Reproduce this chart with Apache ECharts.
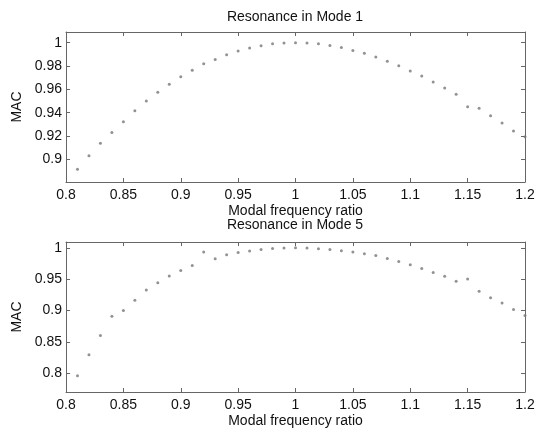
<!DOCTYPE html>
<html>
<head>
<meta charset="utf-8">
<script src="https://cdn.jsdelivr.net/npm/echarts@6/dist/echarts.min.js"></script>
<style>html,body{margin:0;padding:0;background:#fff}#c{width:538px;height:432px}</style>
</head>
<body>
<div id="c"></div>
<script>
var ratio = [0.81,0.82,0.83,0.84,0.85,0.86,0.87,0.88,0.89,0.90,0.91,0.92,0.93,0.94,0.95,0.96,0.97,0.98,0.99,1.00,
             1.01,1.02,1.03,1.04,1.05,1.06,1.07,1.08,1.09,1.10,1.11,1.12,1.13,1.14,1.15,1.16,1.17,1.18,1.19,1.20];
var mode1 = [0.8914,0.9031,0.9137,0.9229,0.9323,0.9417,0.9500,0.9574,0.9643,0.9709,0.9763,0.9820,0.9857,0.9897,0.9929,0.9954,0.9973,0.9991,0.9997,1.0000,
             0.9997,0.9991,0.9977,0.9960,0.9934,0.9909,0.9877,0.9840,0.9803,0.9757,0.9714,0.9663,0.9611,0.9557,0.9451,0.9437,0.9374,0.9311,0.9243,0.9194];
var mode5 = [0.7963,0.8296,0.8603,0.8910,0.9000,0.9164,0.9328,0.9444,0.9550,0.9640,0.9720,0.9931,0.9825,0.9889,0.9926,0.9947,0.9974,0.9989,0.9995,1.0000,
             0.9995,0.9984,0.9974,0.9952,0.9931,0.9905,0.9878,0.9831,0.9783,0.9730,0.9672,0.9608,0.9545,0.9466,0.9503,0.9307,0.9206,0.9122,0.9016,0.8921];
var xTicks = [0.8,0.85,0.9,0.95,1,1.05,1.1,1.15,1.2];
var yTicks1 = [0.9,0.92,0.94,0.96,0.98,1];
var yTicks5 = [0.8,0.85,0.9,0.95,1];
var titles = ['Resonance in Mode 1','Resonance in Mode 5'];

var FONT = 'Liberation Sans, Arial, sans-serif';
var FS = 14;
var AX = '#666';
function pairs(ys){ return ratio.map(function(x,i){return [x, ys[i]];}); }
function fmt(v){ return String(Math.round(v*1000)/1000); }

var grids = [{left:66,right:13,top:32,height:150},{left:66,right:13,top:242,height:150}];
var yRanges = [[0.8805,1.0092],[0.7705,1.0092]];
var yTickSets = [yTicks1, yTicks5];
var xAxes = [], yAxes = [];
for (var g=0; g<2; g++){
  xAxes.push({gridIndex:g, type:'value', position:'bottom', min:0.8, max:1.2,
    name:'Modal frequency ratio', nameLocation:'middle', nameGap:22,
    nameTextStyle:{fontFamily:FONT,fontSize:FS,color:'#111'},
    axisLine:{onZero:false,lineStyle:{color:AX,width:1}},
    axisTick:{inside:true,length:4,customValues:xTicks,lineStyle:{color:AX}},
    axisLabel:{customValues:xTicks,formatter:fmt,fontFamily:FONT,fontSize:FS,color:'#111',margin:6},
    splitLine:{show:false}});
  xAxes.push({gridIndex:g, type:'value', position:'top', min:0.8, max:1.2,
    axisLine:{onZero:false,lineStyle:{color:AX,width:1}},
    axisTick:{inside:true,length:4,customValues:xTicks,lineStyle:{color:AX}},
    axisLabel:{show:false}, splitLine:{show:false}});
  yAxes.push({gridIndex:g, type:'value', position:'left', min:yRanges[g][0], max:yRanges[g][1],
    name:'MAC', nameLocation:'middle', nameGap:35,
    nameTextStyle:{fontFamily:FONT,fontSize:FS,color:'#111'},
    axisLine:{show:true,onZero:false,lineStyle:{color:AX,width:1}},
    axisTick:{show:true,inside:true,length:4,customValues:yTickSets[g],lineStyle:{color:AX}},
    axisLabel:{customValues:yTickSets[g],formatter:fmt,fontFamily:FONT,fontSize:FS,color:'#111',margin:4},
    splitLine:{show:false}});
  yAxes.push({gridIndex:g, type:'value', position:'right', min:yRanges[g][0], max:yRanges[g][1],
    axisLine:{show:true,onZero:false,lineStyle:{color:AX,width:1}},
    axisTick:{show:true,inside:true,length:4,customValues:yTickSets[g],lineStyle:{color:AX}},
    axisLabel:{show:false}, splitLine:{show:false}});
}

var chart = echarts.init(document.getElementById('c'), null, {renderer:'canvas'});
chart.setOption({
  backgroundColor:'#fff',
  animation:false,
  title:[
    {text:titles[0], left:295, top:10, padding:0, textAlign:'center', textStyle:{fontFamily:FONT,fontSize:FS,fontWeight:'normal',color:'#111'}},
    {text:titles[1], left:295, top:218, padding:0, textAlign:'center', textStyle:{fontFamily:FONT,fontSize:FS,fontWeight:'normal',color:'#111'}}
  ],
  grid:grids,
  xAxis:xAxes,
  yAxis:yAxes,
  series:[
    {type:'scatter', xAxisIndex:0, yAxisIndex:0, data:pairs(mode1), symbol:'circle', symbolSize:3, itemStyle:{color:'#777'}},
    {type:'scatter', xAxisIndex:2, yAxisIndex:2, data:pairs(mode5), symbol:'circle', symbolSize:3, itemStyle:{color:'#777'}}
  ]
});
</script>
</body>
</html>
